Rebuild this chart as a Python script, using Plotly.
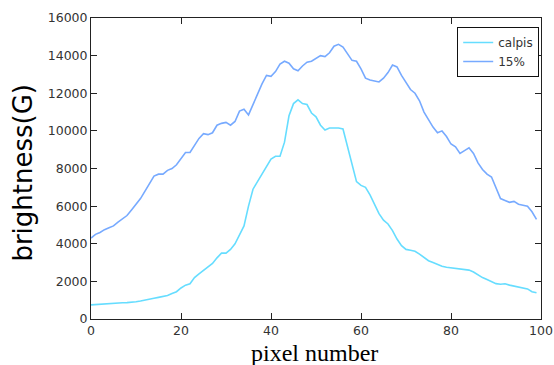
import plotly.graph_objects as go

pixel = list(range(100))

calpis = [750, 770, 790, 800, 810, 820, 840, 860, 870, 880,
          920, 960, 1020, 1070, 1100, 1150, 1200, 1250, 1350, 1450,
          1650, 1800, 1870, 2200, 2400, 2600, 2750, 2950, 3250, 3500,
          3500, 3700, 4000, 4450, 4950, 6000, 6900, 7300, 7700, 8050,
          8500, 8650, 8650, 9400, 10800, 11450, 11650, 11450, 11400, 10950,
          10750, 10300, 10050, 10150, 10150, 10150, 10100, 9200, 8300, 7300,
          7100, 7000, 6600, 6100, 5600, 5250, 5050, 4700, 4250, 3900,
          3700, 3650, 3600, 3450, 3250, 3100, 3000, 2900, 2800, 2750,
          2720, 2700, 2650, 2650, 2600, 2500, 2350, 2200, 2100, 2000,
          1880, 1850, 1870, 1800, 1750, 1700, 1650, 1600, 1450, 1400]

pct15 = [4300, 4500, 4600, 4750, 4850, 4950, 5150, 5350, 5500, 5800,
         6100, 6400, 6800, 7200, 7600, 7700, 7700, 7900, 8000, 8200,
         8500, 8850, 8850, 9200, 9600, 9850, 9800, 9900, 10300, 10400,
         10450, 10300, 10500, 11050, 11150, 10850, 11400, 11900, 12500, 12950,
         12900, 13150, 13550, 13700, 13600, 13300, 13200, 13450, 13650, 13700,
         13850, 14000, 13950, 14150, 14500, 14600, 14450, 14100, 13750, 13700,
         13300, 12800, 12700, 12650, 12600, 12800, 13100, 13500, 13400, 12950,
         12600, 12200, 12000, 11600, 11000, 10600, 10200, 9900, 10000, 9700,
         9300, 9150, 8800, 8950, 9100, 8800, 8300, 7950, 7700, 7550,
         7000, 6400, 6300, 6200, 6250, 6100, 6050, 6000, 5700, 5300]

x_ticks = [0, 20, 40, 60, 80, 100]
y_ticks = [0, 2000, 4000, 6000, 8000, 10000, 12000, 14000, 16000]

fig = go.Figure()
fig.add_trace(go.Scatter(x=pixel, y=calpis, mode="lines", name="calpis",
                         line=dict(color="#66ddff", width=1.6)))
fig.add_trace(go.Scatter(x=pixel, y=pct15, mode="lines", name="15%",
                         line=dict(color="#77aaff", width=1.6)))

axis_common = dict(showline=True, linecolor="#222", linewidth=1, mirror="ticks",
                   ticks="inside", ticklen=6, tickcolor="#222", showgrid=False,
                   zeroline=False, automargin=False,
                   tickfont=dict(family="DejaVu Sans", size=12.5, color="#333"))

fig.update_layout(
    width=554, height=365,
    margin=dict(l=91, r=13, t=18, b=46),
    plot_bgcolor="white", paper_bgcolor="white",
    showlegend=True,
    legend=dict(x=0.996, y=0.97, xanchor="right", yanchor="top",
                bordercolor="#111", borderwidth=1, bgcolor="white",
                font=dict(family="DejaVu Sans", size=12, color="#333"),
                tracegroupgap=0, itemwidth=30),
    xaxis=dict(range=[0, 100], tickvals=x_ticks, ticktext=[str(v) for v in x_ticks],
               **axis_common),
    yaxis=dict(range=[0, 16000], tickvals=y_ticks, ticktext=[str(v) for v in y_ticks],
               **axis_common),
    annotations=[
        dict(text="pixel number", xref="paper", yref="paper", x=0.497, y=-0.113,
             xanchor="center", yanchor="middle", showarrow=False,
             font=dict(family="Liberation Serif", size=24, color="black")),
        dict(text="brightness(G)", xref="paper", yref="paper", x=-0.152, y=0.485,
             xanchor="center", yanchor="middle", showarrow=False, textangle=-90,
             font=dict(family="DejaVu Sans", size=26, color="black")),
    ],
)

# remove the default page margin so the figure fills the window exactly
fig.write_html("out.html", config={"displayModeBar": False},
               post_script="document.body.style.margin='0';document.body.style.overflow='hidden';")
